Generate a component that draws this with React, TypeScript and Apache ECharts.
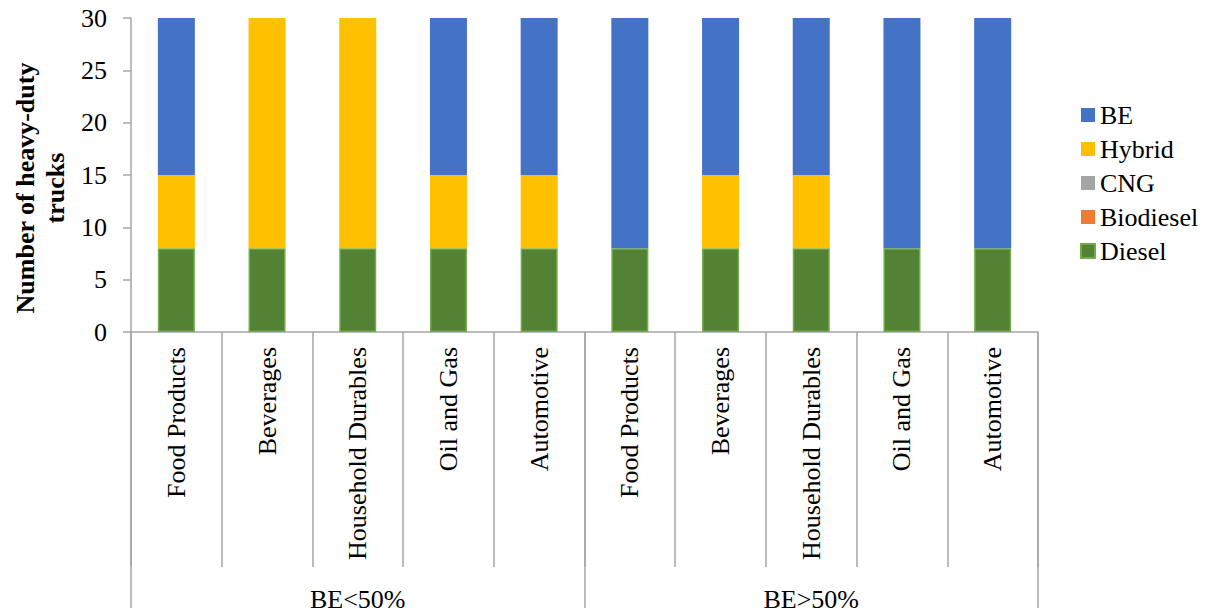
import React, { useEffect, useRef } from "react";
import * as echarts from "echarts";

const categories = [
  "Food Products", "Beverages", "Household Durables", "Oil and Gas", "Automotive",
  "Food Products", "Beverages", "Household Durables", "Oil and Gas", "Automotive",
];
const groups = ["BE<50%", "BE>50%"];
const diesel = [8, 8, 8, 8, 8, 8, 8, 8, 8, 8];
const biodiesel = [0, 0, 0, 0, 0, 0, 0, 0, 0, 0];
const cng = [0, 0, 0, 0, 0, 0, 0, 0, 0, 0];
const hybrid = [7, 22, 22, 7, 7, 0, 7, 7, 0, 0];
const be = [15, 0, 0, 15, 15, 22, 15, 15, 22, 22];
const yTicks = { min: 0, max: 30, interval: 5 };
const yTitle = "Number of heavy-duty\ntrucks";

const FONT = "'Liberation Serif', 'Times New Roman', serif";
const GRAY = "#a6a6a6";
const FS = 26;

export default function App() {
  const ref = useRef<HTMLDivElement>(null);
  useEffect(() => {
    const chart = echarts.init(ref.current!, null, { renderer: "svg" });
    const barBase = { type: "bar", stack: "total", barWidth: 37, xAxisIndex: 0 };
    chart.setOption({
      animation: false,
      textStyle: { fontFamily: FONT, color: "#000" },
      grid: { left: 131, right: 168, top: 18, bottom: 284, containLabel: false },
      legend: {
        orient: "vertical",
        left: 1080,
        top: 102,
        padding: 0,
        itemWidth: 14,
        itemHeight: 14,
        itemGap: 8,
        icon: "rect",
        textStyle: { fontFamily: FONT, fontSize: FS, color: "#000", lineHeight: 26 },
        data: ["BE", "Hybrid", "CNG", "Biodiesel", "Diesel"],
      },
      graphic: [
        {
          type: "text",
          x: 40,
          y: 188,
          rotation: Math.PI / 2,
          style: {
            text: yTitle,
            fontFamily: FONT,
            fontSize: FS,
            fontWeight: "bold",
            lineHeight: 30,
            align: "center",
            verticalAlign: "middle",
            fill: "#000",
          },
        },
      ],
      xAxis: [
        {
          type: "category",
          data: categories,
          position: "bottom",
          axisLine: { show: true, lineStyle: { color: GRAY, width: 1.5 } },
          axisTick: { show: true, length: 235, lineStyle: { color: GRAY, width: 1.5 } },
          axisLabel: {
            rotate: 90,
            interval: 0,
            margin: 15,
            fontFamily: FONT,
            fontSize: FS,
            color: "#000",
          },
        },
        {
          type: "category",
          data: groups,
          position: "bottom",
          axisLine: { show: false },
          axisTick: { show: true, length: 284, lineStyle: { color: GRAY, width: 1.5 } },
          axisLabel: {
            interval: 0,
            margin: 254,
            fontFamily: FONT,
            fontSize: FS,
            color: "#000",
          },
        },
      ],
      yAxis: {
        type: "value",
        min: yTicks.min,
        max: yTicks.max,
        interval: yTicks.interval,
        axisLine: { show: true, lineStyle: { color: GRAY, width: 1.5 } },
        axisTick: { show: true, length: 8, lineStyle: { color: GRAY, width: 1.5 } },
        splitLine: { show: false },
        axisLabel: { margin: 24, fontFamily: FONT, fontSize: FS, color: "#000" },
      },
      series: [
        {
          ...barBase,
          name: "Diesel",
          data: diesel,
          itemStyle: { color: "#548235", borderColor: "#70AD47", borderWidth: 1.5 },
        },
        { ...barBase, name: "Biodiesel", data: biodiesel, itemStyle: { color: "#ED7D31" } },
        { ...barBase, name: "CNG", data: cng, itemStyle: { color: "#A5A5A5" } },
        { ...barBase, name: "Hybrid", data: hybrid, itemStyle: { color: "#FFC000" } },
        { ...barBase, name: "BE", data: be, itemStyle: { color: "#4472C4" } },
      ],
    });
    return () => chart.dispose();
  }, []);
  return <div ref={ref} style={{ width: 1206, height: 616, margin: -8 }} />;
}
